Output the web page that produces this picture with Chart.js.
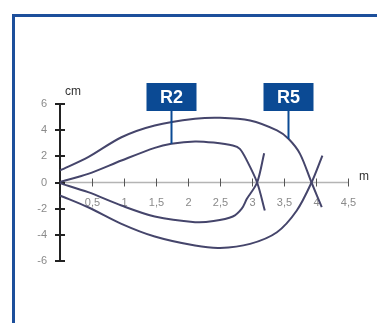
<!DOCTYPE html>
<html>
<head>
<meta charset="utf-8">
<script src="https://cdn.jsdelivr.net/npm/chart.js@4.4.1/dist/chart.umd.min.js"></script>
<style>
  html, body { margin: 0; padding: 0; background: #fff; overflow: hidden; }
  #wrap { position: relative; width: 377px; height: 323px; }
  #frame {
    position: absolute; left: 12px; top: 14px; width: 420px; height: 400px;
    border-left: 3px solid #1d4f9b; border-top: 3px solid #1d4f9b;
  }
  canvas { position: absolute; left: 0; top: 0; }
</style>
</head>
<body>
<div id="wrap">
  <div id="frame"></div>
  <canvas id="chart" width="377" height="323"></canvas>
</div>
<script>
// distance in m (x), width in cm (y)
const xTicks = [0.5, 1, 1.5, 2, 2.5, 3, 3.5, 4, 4.5];
const xTickLabels = ["0,5", "1", "1,5", "2", "2,5", "3", "3,5", "4", "4,5"];
const yTicks = [6, 4, 2, 0, -2, -4, -6];

const r2UpperX = [0, 0.44, 0.96, 1.48, 1.74, 2.11, 2.4, 2.7, 2.81, 2.92, 3.08, 3.2];
const r2UpperY = [0.05, 0.66, 1.68, 2.65, 2.96, 3.14, 3.05, 2.83, 2.57, 1.68, 0, -2.14];
const r2LowerX = [0, 0.44, 0.96, 1.48, 2.11, 2.4, 2.7, 2.84, 2.92, 3.08, 3.19];
const r2LowerY = [-0.05, -0.74, -1.76, -2.6, -3.03, -2.95, -2.6, -2.0, -1.25, 0, 2.24];
const r5UpperX = [0, 0.44, 0.96, 1.48, 2.11, 2.5, 2.97, 3.39, 3.57, 3.75, 3.93, 4.09];
const r5UpperY = [0.92, 1.94, 3.46, 4.36, 4.87, 4.95, 4.74, 3.98, 3.34, 2.19, 0, -1.89];
const r5LowerX = [0, 0.44, 0.96, 1.48, 2.11, 2.5, 2.97, 3.39, 3.7, 3.93, 4.1];
const r5LowerY = [-0.99, -1.89, -3.16, -4.13, -4.82, -5.0, -4.69, -3.8, -2.14, 0, 2.06];

// callout labels: name, x where the leader meets the curve, y of the curve there
const calloutNames = ["R2", "R5"];
const calloutX = [1.74, 3.57];
const calloutY = [2.96, 3.34];

const lineColor = "#45456b";

function toPoints(xs, ys) {
  return xs.map((x, i) => ({ x: x, y: ys[i] }));
}

function curve(xs, ys) {
  return {
    data: toPoints(xs, ys),
    borderColor: lineColor,
    borderWidth: 2,
    pointRadius: 0,
    tension: 0.3,
    showLine: true,
    fill: false,
    clip: false,
  };
}

// draws the crossing axes, tick labels and callouts
const axesPlugin = {
  id: "axesPlugin",
  beforeDatasetsDraw(chart) {
    const ctx = chart.ctx;
    const xs = chart.scales.x;
    const ys = chart.scales.y;
    const x0 = xs.getPixelForValue(0);
    const y0 = ys.getPixelForValue(0);
    ctx.save();

    // x axis
    ctx.strokeStyle = "#b4b4b4";
    ctx.lineWidth = 1.5;
    ctx.beginPath();
    ctx.moveTo(x0, y0);
    ctx.lineTo(xs.getPixelForValue(4.5), y0);
    ctx.stroke();
    ctx.strokeStyle = "#555";
    ctx.lineWidth = 1;
    ctx.font = "11px 'Liberation Sans', Arial, sans-serif";
    ctx.fillStyle = "#8a8a8a";
    ctx.textAlign = "center";
    ctx.textBaseline = "middle";
    xTicks.forEach((v, i) => {
      const px = Math.round(xs.getPixelForValue(v)) + 0.5;
      ctx.beginPath();
      ctx.moveTo(px, y0 - 4);
      ctx.lineTo(px, y0 + 4);
      ctx.stroke();
      ctx.fillText(xTickLabels[i], px, y0 + 20);
    });

    // y axis
    ctx.strokeStyle = "#222";
    ctx.lineWidth = 2;
    ctx.beginPath();
    ctx.moveTo(x0, ys.getPixelForValue(6));
    ctx.lineTo(x0, ys.getPixelForValue(-6));
    ctx.stroke();
    ctx.textAlign = "right";
    yTicks.forEach((v) => {
      const py = Math.round(ys.getPixelForValue(v));
      ctx.beginPath();
      ctx.moveTo(x0 - 5, py);
      ctx.lineTo(x0 + 5, py);
      ctx.stroke();
      ctx.fillText(String(v), x0 - 13, py);
    });

    // unit labels
    ctx.fillStyle = "#333";
    ctx.font = "12px 'Liberation Sans', Arial, sans-serif";
    ctx.textAlign = "left";
    ctx.fillText("cm", x0 + 5, ys.getPixelForValue(6) - 12);
    ctx.fillText("m", xs.getPixelForValue(4.5) + 11, y0 - 6);
    ctx.restore();
  },
  afterDatasetsDraw(chart) {
    const ctx = chart.ctx;
    const xs = chart.scales.x;
    const ys = chart.scales.y;
    ctx.save();
    calloutNames.forEach((name, i) => {
      const px = Math.round(xs.getPixelForValue(calloutX[i])) + 0.5;
      const tip = ys.getPixelForValue(calloutY[i]);
      const top = ys.getPixelForValue(6) - 21;
      ctx.strokeStyle = "#0b4a94";
      ctx.lineWidth = 2;
      ctx.beginPath();
      ctx.moveTo(px, top + 26);
      ctx.lineTo(px, tip);
      ctx.stroke();
      ctx.fillStyle = "#0b4a94";
      ctx.fillRect(px - 25, top, 50, 28);
      ctx.fillStyle = "#fff";
      ctx.font = "bold 18px 'Liberation Sans', Arial, sans-serif";
      ctx.textAlign = "center";
      ctx.textBaseline = "middle";
      ctx.fillText(name, px, top + 15);
    });
    ctx.restore();
  },
};

new Chart(document.getElementById("chart"), {
  type: "scatter",
  data: {
    datasets: [
      curve(r2UpperX, r2UpperY),
      curve(r2LowerX, r2LowerY),
      curve(r5UpperX, r5UpperY),
      curve(r5LowerX, r5LowerY),
    ],
  },
  options: {
    responsive: false,
    animation: false,
    layout: { padding: { left: 60, right: 29, top: 104, bottom: 62 } },
    plugins: { legend: { display: false }, tooltip: { enabled: false } },
    scales: {
      x: { type: "linear", min: 0, max: 4.5, display: false },
      y: { type: "linear", min: -6, max: 6, display: false },
    },
  },
  plugins: [axesPlugin],
});
</script>
</body>
</html>
